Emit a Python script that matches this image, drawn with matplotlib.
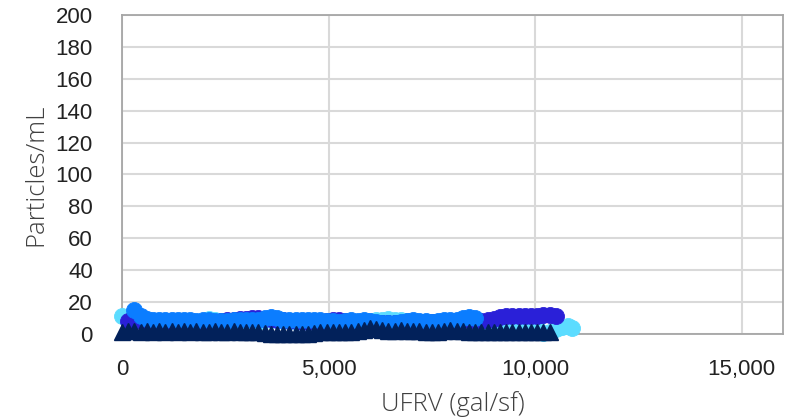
import matplotlib
matplotlib.use("Agg")
import matplotlib.pyplot as plt

# UFRV (gal/sf) and particle counts (particles/mL) for each series
ufrv_cyan = [0, 150, 300, 450, 600, 750, 900, 1050, 1200, 1350, 1500, 1650, 1800, 1950,
             2100, 2250, 2400, 2550, 2700, 2850, 3000, 3150, 3300, 3450, 3600, 3750, 3900,
             4050, 4200, 4350, 4500, 4650, 4800, 4950, 5100, 5250, 5400, 5550, 5700, 5850,
             6000, 6150, 6300, 6450, 6600, 6750, 6900, 7050, 7200, 7350, 7500, 7650, 7800,
             7950, 8100, 8250, 8400, 8550, 8700, 8850, 9000, 9150, 9300, 9450, 9600, 9750,
             9900, 10050, 10200, 10350, 10500, 10650, 10800, 10900]
count_cyan = [11, 10.5, 9, 9, 8.5, 8, 8, 7.5, 7.5, 7.5, 7.5, 7.5, 7, 7.5,
              9.5, 8.5, 7, 7, 7.5, 7.5, 8, 7.5, 7.5, 9, 9, 9, 8,
              8, 7.5, 7.5, 7.5, 7.5, 7.5, 7, 7, 6.5, 7, 7.5, 7, 7.5,
              8, 8.5, 9, 9.5, 9, 9, 8, 7.5, 7, 7, 6.5, 7, 7.5,
              7.5, 8, 9, 9.5, 9, 7, 7, 7, 7, 7, 7, 7, 7,
              6, 4, 0.5, 1, 3, 4.5, 5, 4]

ufrv_purple = [150, 300, 450, 600, 750, 900, 1050, 1200, 1350, 1500, 1650, 1800, 1950,
               2100, 2250, 2400, 2550, 2700, 2850, 3000, 3150, 3300, 3450, 3600, 3750, 3900,
               4050, 4200, 4350, 4500, 4650, 4800, 4950, 5100, 5250, 5400, 5550, 5700, 5850,
               6000, 6150, 6300, 6450, 6600, 6750, 6900, 7050, 7200, 7350, 7500, 7650, 7800,
               7950, 8100, 8250, 8400, 8550, 8700, 8850, 9000, 9150, 9300, 9450, 9600, 9750,
               9900, 10050, 10200, 10350, 10500]
count_purple = [8, 8, 8, 7.5, 7.5, 7.5, 7.5, 7.5, 7.5, 7.5, 7.5, 7.5, 7.5,
                7.5, 7.5, 8, 8.5, 9, 9.5, 9.5, 10, 10, 9.5, 9.5, 9, 8.5,
                8, 8, 7.5, 7.5, 7.5, 7.5, 8, 8.5, 8.5, 8, 7.5, 7.5, 7.5,
                7.5, 7, 7, 7, 7, 7, 7.5, 7.5, 7.5, 7.5, 7.5, 7.5, 8,
                8, 8, 8.5, 8.5, 8, 8, 8.5, 9.5, 10.5, 11, 11.5, 11.5, 11,
                11, 11.5, 12, 12, 11]

ufrv_blue = [300, 450, 600, 750, 900, 1050, 1200, 1350, 1500, 1650, 1800, 1950,
             2100, 2250, 2400, 2550, 2700, 2850, 3000, 3150, 3300, 3450, 3600, 3750, 3900,
             4050, 4200, 4350, 4500, 4650, 4800, 4950, 5100, 5250, 5400, 5550, 5700, 5850,
             6000, 6150, 6300, 6450, 6600, 6750, 6900, 7050, 7200, 7350, 7500, 7650, 7800,
             7950, 8100, 8250, 8400, 8550]
count_blue = [15, 11, 9.5, 9, 9, 8.5, 8.5, 8.5, 8.5, 8.5, 8, 8.5,
              8.5, 8, 8, 8, 8.5, 8.5, 9, 8.5, 8.5, 10, 10.5, 10, 9,
              9, 8.5, 8.5, 8.5, 8.5, 8.5, 8, 8, 7.5, 8, 8.5, 8, 8.5,
              8, 7.5, 7, 7, 7, 7.5, 8, 8.5, 8, 8, 7.5, 8, 8.5,
              8.5, 9, 10, 10.5, 10]

ufrv_navy = [0, 150, 300, 450, 600, 750, 900, 1050, 1200, 1350, 1500, 1650, 1800, 1950,
             2100, 2250, 2400, 2550, 2700, 2850, 3000, 3150, 3300, 3450, 3600, 3750, 3900,
             4050, 4200, 4350, 4500, 4650, 4800, 4950, 5100, 5250, 5400, 5550, 5700, 5850,
             6000, 6150, 6300, 6450, 6600, 6750, 6900, 7050, 7200, 7350, 7500, 7650, 7800,
             7950, 8100, 8250, 8400, 8550, 8700, 8850, 9000, 9150, 9300, 9450, 9600, 9750,
             9900, 10050, 10200, 10350]
count_navy = [1.5, 2, 2, 1.5, 2, 1.5, 2, 1.5, 2, 1.5, 2, 1.5, 2, 1.5,
              1.5, 2, 1.5, 1.5, 2, 1.5, 1.5, 1, 1, 0.5, 0, 0, 0,
              0, 0, 0, 0, 0.5, 1, 1, 1, 1, 1, 1.5, 2, 2.5,
              3.5, 3, 2.5, 2, 2, 2.5, 2, 2, 2, 1.5, 1.5, 1.5, 2,
              2.5, 2, 2, 1.5, 1.5, 1.5, 1.5, 1, 1, 1, 1, 1, 1,
              1, 1, 1, 1]

x_ticks = [0, 5000, 10000, 15000]
x_tick_labels = ["0", "5,000", "10,000", "15,000"]
y_ticks = list(range(0, 201, 20))

fig = plt.figure(figsize=(8.05, 4.18), dpi=100)
ax = fig.add_axes([0.1516, 0.201, 0.8211, 0.7631])

circle = dict(linestyle="none", marker="o", markersize=11.5, markeredgewidth=0.6,
              clip_on=False, zorder=3)
ax.plot(ufrv_cyan, count_cyan, color="#5cdcff", **circle)
ax.plot(ufrv_purple, count_purple, color="#2a20d8", **circle)
ax.plot(ufrv_blue, count_blue, color="#0b7dff", **circle)
ax.plot(ufrv_navy, count_navy, linestyle="none", marker="^", markersize=11.5,
        markeredgewidth=1.0, color="#02215a", clip_on=False, zorder=4)

ax.set_xlim(0, 16000)
ax.set_ylim(0, 200)
ax.set_xticks(x_ticks)
ax.set_xticklabels(x_tick_labels)
ax.set_yticks(y_ticks)

for lab in ax.get_xticklabels() + ax.get_yticklabels():
    lab.set_fontfamily(["Liberation Sans", "DejaVu Sans"])
    lab.set_fontsize(16)
    lab.set_color("#222222")
ax.tick_params(axis="both", length=0)
ax.tick_params(axis="y", pad=21)
ax.tick_params(axis="x", pad=18)

ax.grid(True, color="#d9d9d9", linewidth=1.5, zorder=0)
ax.set_axisbelow(True)
for side in ["left", "right", "top", "bottom"]:
    ax.spines[side].set_color("#a6a6a6")
    ax.spines[side].set_linewidth(1.3)

label_font = dict(family=["Open Sans", "Noto Sans", "DejaVu Sans"], size=18.5,
                  weight="light", color="#404040")
ax.set_xlabel("UFRV (gal/sf)", labelpad=8, **label_font)
ax.set_ylabel("Particles/mL", labelpad=5, **label_font)

fig.savefig("out.png", dpi=100)
